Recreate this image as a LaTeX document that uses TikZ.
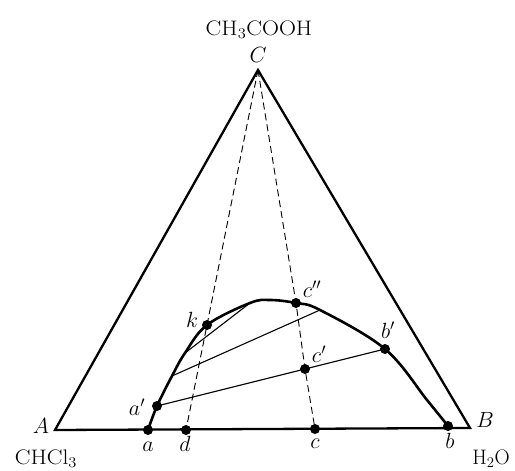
\RequirePackage{fix-cm}
\documentclass[tikz,border=0pt]{standalone}
\begin{document}
\begin{tikzpicture}[x=1pt,y=-1pt,
  dot/.style={circle,fill=black,inner sep=0pt,minimum size=10pt},
  lbl/.style={inner sep=0pt,anchor=base,font=\fontsize{22}{26}\selectfont},
  chem/.style={inner sep=0pt,anchor=base,font=\fontsize{21}{25}\selectfont},
  side/.style={line width=2.3pt},
  tie/.style={line width=1.1pt},
  guide/.style={line width=0.9pt,dash pattern=on 7pt off 4pt}]
\useasboundingbox (0,0) rectangle (515,471);
% vertices
\coordinate (A) at (55,430);
\coordinate (B) at (470,428);
\coordinate (C) at (258,70);
% points
\node[dot] (a) at (148,430) {};
\node[dot] (d) at (186,430) {};
\node[dot] (c) at (315,429) {};
\node[dot] (b) at (448,426) {};
\node[dot] (a1) at (157,406) {};
\node[dot] (k) at (207,325) {};
\node[dot] (c2) at (296,303) {};
\node[dot] (c1) at (305,369) {};
\node[dot] (b1) at (385,349) {};
\coordinate (t2l) at (172,376);
\coordinate (t2r) at (320,310);
\coordinate (t3l) at (185,353);
\coordinate (t3r) at (250,303);
% triangle
\draw[side,line join=miter] (A) -- (C) -- (B) -- cycle;
% binodal curve
\draw[line width=2.6pt] plot[smooth,tension=0.6] coordinates
  {(148,430) (157,406) (172,376) (185,353) (207,325) (250,303) (270,300) (296,303) (320,310) (385,349) (427,400) (448,426)};
% tie lines
\draw[tie] (a1.center) -- (c1.center) -- (b1.center);
\draw[tie] (t2l) -- (t2r);
\draw[tie] (t3l) -- (t3r);
% dashed guides
\draw[guide] (C) -- (k.center) -- (d.center);
\draw[guide] (C) -- (c2.center) -- (c1.center) -- (c.center);
% labels
\node[lbl] (lC) at (258,62) {$C$};
\node[chem] (lCH) at (259,35) {\scalebox{1.12}[1]{CH$_3$COOH}};
\node[lbl] (lA) at (41,433) {$A$};
\node[lbl] (lB) at (485,427) {$B$};
\node[chem] (lCHCl) at (46,464) {\scalebox{1.12}[1]{CHCl$_3$}};
\node[chem] (lH2O) at (491,464) {H$_2$O};
\node[lbl] (la) at (148,451) {$a$};
\node[lbl] (ld) at (185,451) {$d$};
\node[lbl] (lc) at (315,448) {$c$};
\node[lbl] (lb) at (450,448) {$b$};
\node[lbl] (la1) at (137,415) {$a'$};
\node[lbl] (lk) at (192,327) {$k$};
\node[lbl] (lc2) at (312,297) {$c''$};
\node[lbl] (lc1) at (319,362) {$c'$};
\node[lbl] (lb1) at (388,338) {$b'$};
\end{tikzpicture}
\end{document}
